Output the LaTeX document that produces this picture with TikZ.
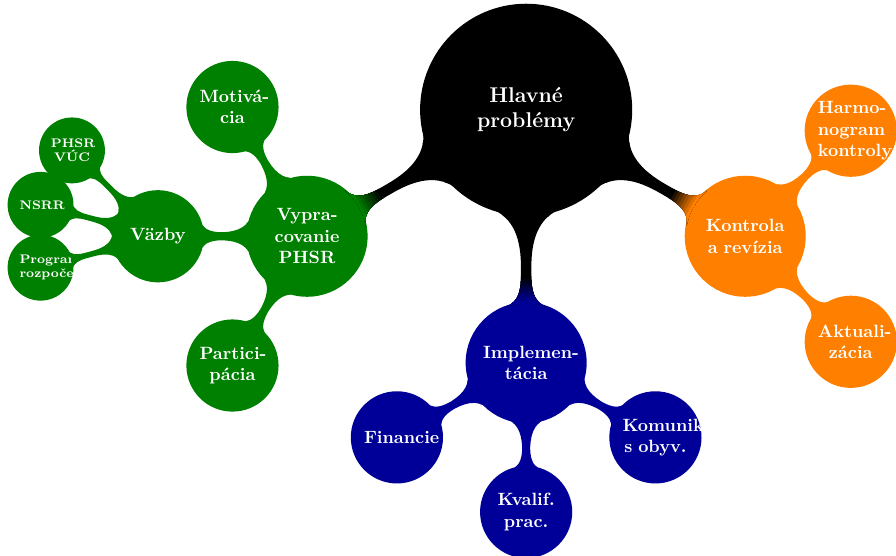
\documentclass[tikz,border=0pt]{standalone}
\usetikzlibrary{mindmap}
\colorlet{cgreen}{green!50!black}
\colorlet{cblue}{blue!60!black}
\colorlet{corange}{orange}
\tikzset{
  cbase/.style={concept, text=white, align=center, inner sep=0pt},
  rootc/.style={cbase, concept color=black, minimum size=4.15cm, text width=3cm, font=\large\bfseries},
  lvlone/.style={cbase, minimum size=2.35cm, text width=1.7cm, font=\bfseries},
  lvltwo/.style={cbase, minimum size=1.78cm, text width=1.3cm, font=\bfseries},
  lvlthree/.style={cbase, minimum size=1.26cm, text width=0.83cm, font=\scriptsize\bfseries},
  samebar/.style={circle connection bar switch color=from (#1) to (#1)},
}
% root-to-branch connection: black bar, colour switching near the child
\newcommand\rootlink[3]{%
  \path (root) to[samebar=black] (#1);
  \foreach \k in {0,...,8} {%
    \pgfmathsetmacro\pc{100*\k/8}%
    \colorlet{tmpc}{#2!\pc!black}%
    \begin{scope}[rotate=#3]
      \clip ({3.3+0.06*\k},-3) rectangle (8,3);
      \begin{scope}[rotate=-#3]
        \path (root) to[samebar=tmpc] (#1);
      \end{scope}
    \end{scope}
  }}
\begin{document}
\begin{tikzpicture}[mindmap]
\useasboundingbox (-10.40,-8.81) rectangle (7.31,2.17);
\node[rootc] (root) at (0,0) {Hlavné\\problémy};
% green branch
\node[lvlone, concept color=cgreen] (vyp) at (210:5) {\mbox{Vypra-}\\covanie\\PHSR};
\node[lvltwo, concept color=cgreen] (mot) at ([shift={(120:2.95)}]vyp) {\mbox{Motivá-}\\cia};
\node[lvltwo, concept color=cgreen] (vaz) at ([shift={(180:2.95)}]vyp) {Väzby};
\node[lvltwo, concept color=cgreen] (par) at ([shift={(240:2.95)}]vyp) {\mbox{Partici-}\\pácia};
\node[lvlthree, concept color=cgreen] (phsr) at ([shift={(135:2.4)}]vaz) {PHSR\\VÚC};
\node[lvlthree, concept color=cgreen] (nsrr) at ([shift={(165:2.4)}]vaz) {NSRR};
\node[lvlthree, concept color=cgreen] (prog) at ([shift={(195:2.4)}]vaz) {\mbox{Program}\\\mbox{rozpočet}};
% blue branch
\node[lvlone, concept color=cblue] (imp) at (270:5) {\mbox{Implemen-}\\tácia};
\node[lvltwo, concept color=cblue] (fin) at ([shift={(210:2.95)}]imp) {Financie};
\node[lvltwo, concept color=cblue] (kva) at ([shift={(270:2.95)}]imp) {Kvalif.\\prac.};
\node[lvltwo, concept color=cblue] (kom) at ([shift={(330:2.95)}]imp) {\mbox{Komunikácia}\\s obyv.};
% orange branch
\node[lvlone, concept color=corange] (kon) at (330:5) {Kontrola\\a revízia};
\node[lvltwo, concept color=corange] (har) at ([shift={(45:2.95)}]kon) {\mbox{Harmo-}\\nogram\\\mbox{kontroly}};
\node[lvltwo, concept color=corange] (akt) at ([shift={(-45:2.95)}]kon) {\mbox{Aktuali-}\\zácia};
% connections
\rootlink{vyp}{cgreen}{210}
\rootlink{imp}{cblue}{270}
\rootlink{kon}{corange}{330}
\path (vyp) to[samebar=cgreen] (mot);
\path (vyp) to[samebar=cgreen] (vaz);
\path (vyp) to[samebar=cgreen] (par);
\path (vaz) to[samebar=cgreen] (phsr);
\path (vaz) to[samebar=cgreen] (nsrr);
\path (vaz) to[samebar=cgreen] (prog);
\path (imp) to[samebar=cblue] (fin);
\path (imp) to[samebar=cblue] (kva);
\path (imp) to[samebar=cblue] (kom);
\path (kon) to[samebar=corange] (har);
\path (kon) to[samebar=corange] (akt);
\end{tikzpicture}
\end{document}
